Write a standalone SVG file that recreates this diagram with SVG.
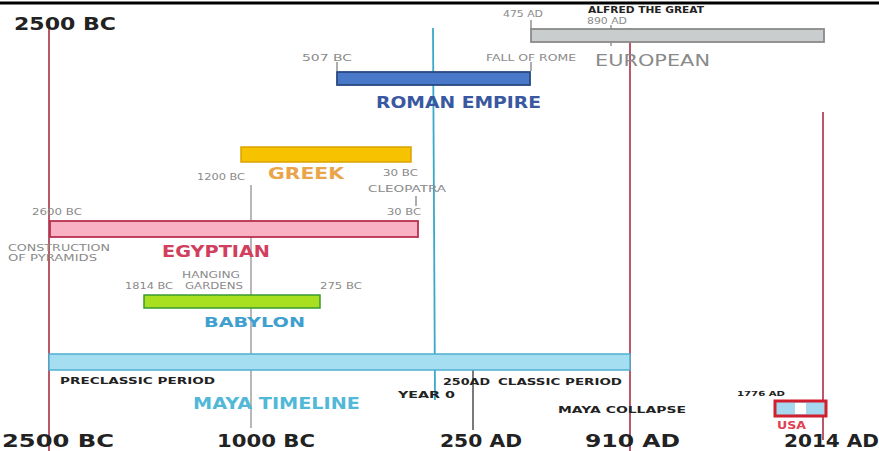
<svg xmlns="http://www.w3.org/2000/svg" width="879" height="451" viewBox="0 0 879 451">
<style>
text{font-family:"DejaVu Sans","Liberation Sans",sans-serif;font-weight:bold}
.axis{font-size:17px;fill:#222}
.sm{font-size:8px;fill:#8a8a8a;font-weight:normal}
.smb{font-size:8px;fill:#222}
.big{font-size:15px}
.tick{stroke:#777;stroke-width:1.2}
</style>
<rect width="879" height="451" fill="#fff"/>
<line x1="0" y1="3" x2="879" y2="3" stroke="#000" stroke-width="3"/>
<g id="connectors" fill="none">
<line x1="49" y1="20" x2="49" y2="451" stroke="#b04858" stroke-width="1.8"/>
<line x1="433" y1="28" x2="435" y2="400" stroke="#3aa8c8" stroke-width="1.8"/>
<line x1="251" y1="185" x2="251" y2="428" stroke="#888" stroke-width="1.2"/>
<line x1="473" y1="355" x2="473" y2="430" stroke="#333" stroke-width="1.3"/>
<line x1="630" y1="28" x2="630" y2="451" stroke="#b04858" stroke-width="1.8"/>
<line x1="823" y1="112" x2="823" y2="440" stroke="#b04858" stroke-width="1.8"/>
<line class="tick" x1="531" y1="20" x2="531" y2="29"/>
<line class="tick" x1="611" y1="25" x2="611" y2="46"/>
<line class="tick" x1="531" y1="62" x2="531" y2="71"/>
<line class="tick" x1="337" y1="62" x2="337" y2="71"/>
<line class="tick" x1="416" y1="196" x2="416" y2="206"/>
</g>
<g id="axis-labels">
<text class="axis" x="14" y="30" textLength="102" lengthAdjust="spacingAndGlyphs">2500 BC</text>
<text class="axis" x="2" y="447" textLength="112" lengthAdjust="spacingAndGlyphs">2500 BC</text>
<text class="axis" x="217" y="447" textLength="98" lengthAdjust="spacingAndGlyphs">1000 BC</text>
<text class="axis" x="440" y="447" textLength="82" lengthAdjust="spacingAndGlyphs">250 AD</text>
<text class="axis" x="585" y="447" textLength="95" lengthAdjust="spacingAndGlyphs">910 AD</text>
<text class="axis" x="784" y="447" textLength="95" lengthAdjust="spacingAndGlyphs">2014 AD</text>
</g>
<g id="european">
<rect x="531" y="29" width="293" height="13" fill="#c9cdcd" stroke="#8a8a8a" stroke-width="1.8"/>
<text class="sm" x="503" y="17" textLength="40" lengthAdjust="spacingAndGlyphs">475 AD</text>
<text class="smb" x="588" y="13" textLength="116" lengthAdjust="spacingAndGlyphs">ALFRED THE GREAT</text>
<text class="sm" x="587" y="24" textLength="40" lengthAdjust="spacingAndGlyphs">890 AD</text>
<text class="big" x="595" y="66" fill="#8a8a8a" style="font-weight:normal" textLength="115" lengthAdjust="spacingAndGlyphs">EUROPEAN</text>
</g>
<g id="roman">
<rect x="337" y="72" width="193" height="13" fill="#4a78c8" stroke="#2a4880" stroke-width="1.8"/>
<text class="sm" x="302" y="61" textLength="50" lengthAdjust="spacingAndGlyphs">507 BC</text>
<text class="sm" x="486" y="61" textLength="90" lengthAdjust="spacingAndGlyphs">FALL OF ROME</text>
<text class="big" x="376" y="108" fill="#3a58a0" textLength="165" lengthAdjust="spacingAndGlyphs">ROMAN EMPIRE</text>
</g>
<g id="greek">
<rect x="241" y="147" width="170" height="15" fill="#f7c300" stroke="#dba200" stroke-width="1.5"/>
<text class="sm" x="197" y="180" textLength="48" lengthAdjust="spacingAndGlyphs">1200 BC</text>
<text class="big" x="268" y="179" fill="#eaa44a" textLength="76" lengthAdjust="spacingAndGlyphs">GREEK</text>
<text class="sm" x="383" y="176" textLength="35" lengthAdjust="spacingAndGlyphs">30 BC</text>
<text class="sm" x="368" y="192" textLength="78" lengthAdjust="spacingAndGlyphs">CLEOPATRA</text>
<text class="sm" x="387" y="215" textLength="34" lengthAdjust="spacingAndGlyphs">30 BC</text>
</g>
<g id="egyptian">
<rect x="50" y="221" width="368" height="16" fill="#f8b2c4" stroke="#b83050" stroke-width="1.8"/>
<text class="sm" x="32" y="215" textLength="50" lengthAdjust="spacingAndGlyphs">2600 BC</text>
<text class="sm" x="8" y="251" textLength="102" lengthAdjust="spacingAndGlyphs">CONSTRUCTION</text>
<text class="sm" x="8" y="261" textLength="89" lengthAdjust="spacingAndGlyphs">OF PYRAMIDS</text>
<text class="big" x="162" y="257" fill="#d0405e" textLength="108" lengthAdjust="spacingAndGlyphs">EGYPTIAN</text>
</g>
<g id="babylon">
<rect x="144" y="295" width="176" height="13" fill="#a8e020" stroke="#3a9a30" stroke-width="1.5"/>
<text class="sm" x="182" y="278" textLength="58" lengthAdjust="spacingAndGlyphs">HANGING</text>
<text class="sm" x="125" y="289" textLength="48" lengthAdjust="spacingAndGlyphs">1814 BC</text>
<text class="sm" x="185" y="289" textLength="58" lengthAdjust="spacingAndGlyphs">GARDENS</text>
<text class="sm" x="320" y="289" textLength="42" lengthAdjust="spacingAndGlyphs">275 BC</text>
<text class="big" x="204" y="327" fill="#3fa0d0" style="font-size:14px" textLength="101" lengthAdjust="spacingAndGlyphs">BABYLON</text>
</g>
<g id="maya">
<rect x="49" y="354" width="581" height="16" fill="#a6def1" stroke="#4eb0d2" stroke-width="1.5"/>
<text class="smb" x="60" y="384" textLength="155" lengthAdjust="spacingAndGlyphs">PRECLASSIC PERIOD</text>
<text class="smb" x="443" y="385" textLength="47" lengthAdjust="spacingAndGlyphs">250AD</text>
<text class="smb" x="498" y="385" textLength="124" lengthAdjust="spacingAndGlyphs">CLASSIC PERIOD</text>
<text class="smb" x="398" y="398" textLength="57" lengthAdjust="spacingAndGlyphs">YEAR 0</text>
<text class="big" x="193" y="409" fill="#52b8d8" style="font-size:16px" textLength="167" lengthAdjust="spacingAndGlyphs">MAYA TIMELINE</text>
<text class="smb" x="558" y="413" textLength="128" lengthAdjust="spacingAndGlyphs">MAYA COLLAPSE</text>
</g>
<g id="usa">
<rect x="775" y="401" width="51" height="15" fill="#a6d8ef" stroke="#d02030" stroke-width="3"/>
<rect x="795" y="403" width="11" height="11" fill="#fff"/>
<text class="smb" x="737" y="396" style="font-size:7px" textLength="48" lengthAdjust="spacingAndGlyphs">1776 AD</text>
<text x="777" y="429" fill="#e04050" style="font-size:10px" textLength="29" lengthAdjust="spacingAndGlyphs">USA</text>
</g>
</svg>
